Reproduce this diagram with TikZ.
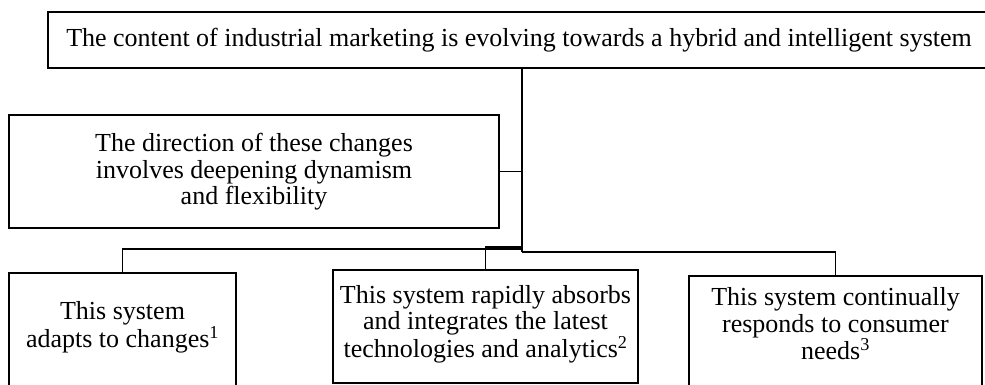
\documentclass[tikz,border=0pt]{standalone}
\usepackage{fontspec}
\setmainfont{Liberation Serif}
\begin{document}
\begin{tikzpicture}[x=1pt,y=-1pt,
  box/.style={draw,line width=1.3pt,rectangle,inner sep=0pt,outer sep=0pt},
  txt/.style={align=center,inner sep=0pt,font=\fontsize{26}{26.5}\selectfont},
  link/.style={line width=1.3pt}]
\useasboundingbox (0,0) rectangle (985,385);
\clip (0,0) rectangle (985,385);
% boxes
\node[box,minimum width=942pt,minimum height=56pt] (top) at (519,40) {};
\node[box,minimum width=490pt,minimum height=113pt] (dir) at (254,171.5) {};
\node[box,minimum width=227pt,minimum height=140pt] (b1) at (122.5,343) {};
\node[box,minimum width=305pt,minimum height=113pt] (b2) at (485.5,326.5) {};
\node[box,minimum width=293pt,minimum height=140pt] (b3) at (835.5,346) {};
% texts
\node[txt] (ttop) at (519,40) {The content of industrial marketing is evolving towards a hybrid and intelligent system};
\node[txt] (tdir) at (254,172) {The direction of these changes\\involves deepening dynamism\\and flexibility};
\node[txt] (tb1) at (122.5,327) {This system\\adapts to changes\textsuperscript{1}};
\node[txt] (tb2) at (485.5,324) {This system rapidly absorbs\\and integrates the latest\\technologies and analytics\textsuperscript{2}};
\node[txt] (tb3) at (835.5,324) {This system continually\\responds to consumer\\needs\textsuperscript{3}};
% connectors
\coordinate (jr) at (522,252);
\coordinate (jl) at (522,249);
\coordinate (jm) at (522,247);
\draw[link] (top.south -| jr) -- (jr);
\draw[link] (dir.east) -- (dir.east -| jr);
\draw[link] (jr) -| (b3.north);
\draw[link] (jl) -| (b1.north);
\draw[link] (jm) -| (b2.north);
\end{tikzpicture}
\end{document}
